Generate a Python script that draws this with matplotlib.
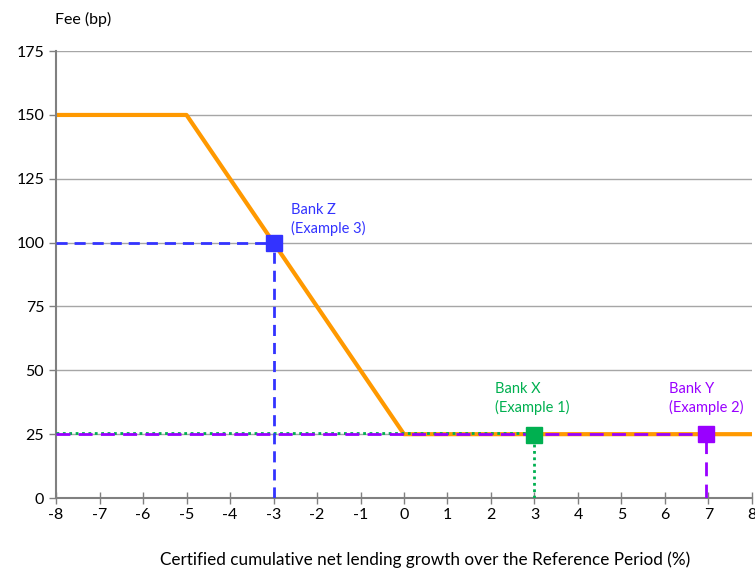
import matplotlib
matplotlib.use("Agg")
import matplotlib.pyplot as plt

# fee schedule
fee_x = [-8, -5, 0, 8]
fee_y = [150, 150, 25, 25]

# example banks
bank_names = ["Bank X\n(Example 1)", "Bank Y\n(Example 2)", "Bank Z\n(Example 3)"]
bank_growth = [3.0, 6.95, -3.0]
bank_fee = [24.5, 25, 100]
guide_fee = [25.5, 25, 100]
bank_colors = ["#00b050", "#9900ff", "#3333ff"]
bank_styles = [(0, (1, 1.3)), (0, (5, 3)), (0, (4, 2.5))]
label_x = [2.1, 6.1, -2.6]
label_y = [32.5, 32.5, 102.5]

xticks = list(range(-8, 9))
yticks = [0, 25, 50, 75, 100, 125, 150, 175]

plt.rcParams['font.family'] = ['Lato', 'DejaVu Sans']
plt.rcParams['axes.unicode_minus'] = False

fig = plt.figure(figsize=(7.55, 5.68), dpi=100)
ax = fig.add_axes([0.0742, 0.1232, 0.9218, 0.7868])

for yt in yticks:
    ax.axhline(yt, color="#a6a6a6", lw=1, zorder=0)

ax.plot(fee_x, fee_y, color="#ff9900", lw=3, zorder=2, solid_capstyle="butt")

# guide lines to the axes
for gx, gy, hy, c, ls in zip(bank_growth, bank_fee, guide_fee, bank_colors, bank_styles):
    ax.plot([-8, gx], [hy, hy], color=c, ls=ls, lw=2, zorder=3)
    ax.plot([gx, gx], [0, gy], color=c, ls=ls, lw=2, zorder=3)

for gx, gy, c in zip(bank_growth, bank_fee, bank_colors):
    ax.plot(gx, gy, marker="s", ms=12, color=c, mec=c, zorder=5, ls="none")

for name, c, tx, ty in zip(bank_names, bank_colors, label_x, label_y):
    ax.text(tx, ty, name, color=c, fontsize=10.5, va="bottom", ha="left",
            linespacing=1.35)

ax.set_xlim(-8, 8)
ax.set_ylim(0, 175)
ax.set_xticks(xticks)
ax.set_yticks(yticks)
ax.tick_params(axis="both", labelsize=11.5, color="#808080", length=5, width=1)
ax.tick_params(axis="x", direction="inout", length=8, pad=3)
for s in ["top", "right"]:
    ax.spines[s].set_visible(False)
for s in ["left", "bottom"]:
    ax.spines[s].set_color("#808080")
    ax.spines[s].set_linewidth(1.5)

fig.text(0.073, 0.965, "Fee (bp)", fontsize=11.5, ha="left", va="center")
fig.text(0.563, 0.015, "Certified cumulative net lending growth over the Reference Period (%)",
         fontsize=12.3, ha="center", va="center")

fig.savefig("out.png", dpi=100)
